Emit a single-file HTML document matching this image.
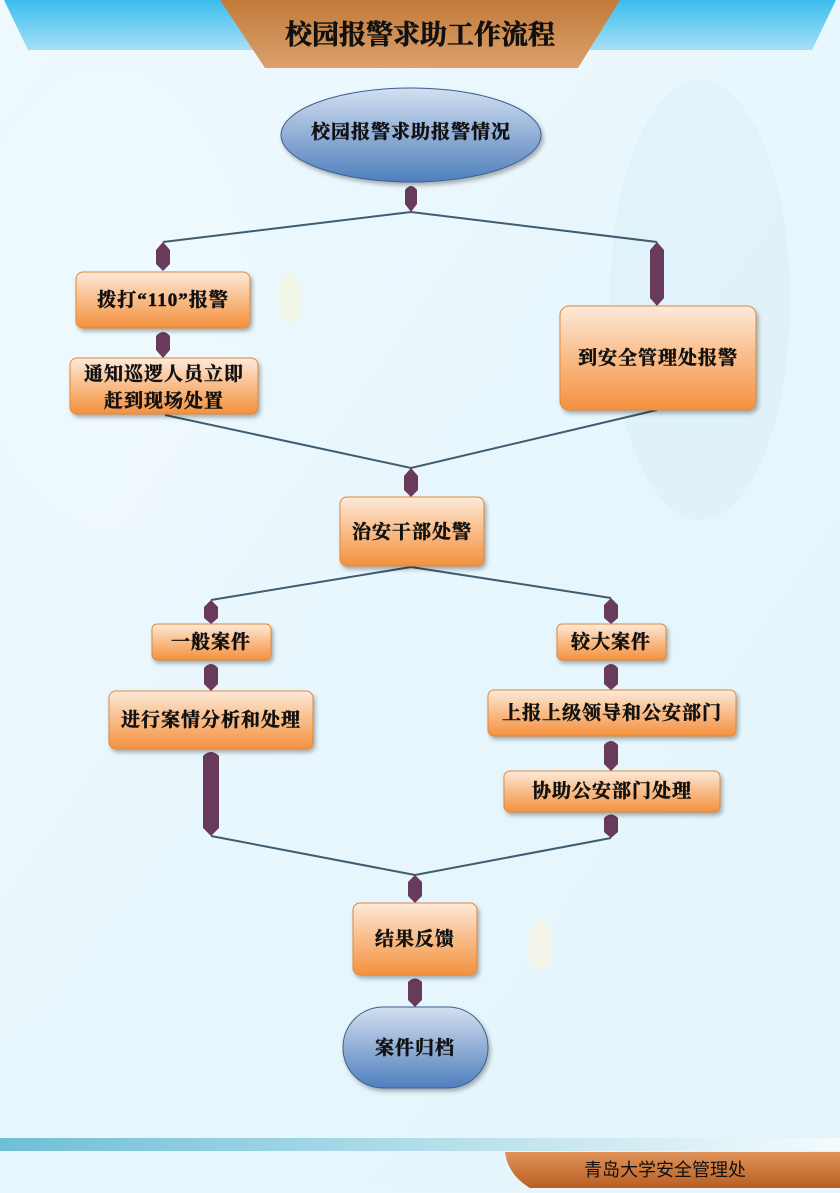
<!DOCTYPE html>
<html><head><meta charset="utf-8"><style>
html,body{margin:0;padding:0}
body{width:840px;height:1188px;overflow:hidden;background:#e6f6fd}
svg text{font-family:"Liberation Serif","Noto Serif CJK SC","Noto Sans CJK SC",serif;font-weight:bold;fill:#111}
.t{stroke:#111;stroke-width:0.5px;letter-spacing:1px}
</style></head><body>
<svg width="840" height="1188" viewBox="0 0 840 1188" xmlns="http://www.w3.org/2000/svg">
<defs>
<linearGradient id="bg" x1="0" y1="0" x2="1" y2="1"><stop offset="0" stop-color="#eef9fe"/><stop offset="1" stop-color="#e2f4fc"/></linearGradient>
<linearGradient id="band" x1="0" y1="0" x2="0" y2="1"><stop offset="0" stop-color="#3cbdee"/><stop offset="1" stop-color="#a6dff6"/></linearGradient>
<linearGradient id="trap" x1="0" y1="0" x2="0" y2="1"><stop offset="0" stop-color="#c27b3a"/><stop offset="1" stop-color="#dca06c"/></linearGradient>
<linearGradient id="box" x1="0" y1="0" x2="0" y2="1"><stop offset="0" stop-color="#fdeadb"/><stop offset="0.45" stop-color="#f9c08f"/><stop offset="1" stop-color="#f4913e"/></linearGradient>
<linearGradient id="ell" x1="0" y1="0" x2="0" y2="1"><stop offset="0" stop-color="#d3dff0"/><stop offset="1" stop-color="#4f7fbd"/></linearGradient>
<linearGradient id="bar" x1="0" y1="0" x2="1" y2="0"><stop offset="0" stop-color="#6fbfd6"/><stop offset="1" stop-color="#f4fbfd"/></linearGradient>
<linearGradient id="foot" x1="0" y1="0" x2="0" y2="1"><stop offset="0" stop-color="#e0935a"/><stop offset="1" stop-color="#b95e22"/></linearGradient>
<filter id="sh" x="-10%" y="-10%" width="130%" height="140%"><feDropShadow dx="2" dy="3" stdDeviation="2" flood-color="#000" flood-opacity="0.3"/></filter>
</defs>
<rect width="840" height="1188" fill="url(#bg)"/>
<ellipse cx="110" cy="300" rx="140" ry="230" fill="#fff" opacity="0.15"/>
<ellipse cx="700" cy="300" rx="90" ry="220" fill="#d8eef8" opacity="0.5"/>
<ellipse cx="290" cy="298" rx="12" ry="25" fill="#f3f5e4" opacity="0.9"/>
<ellipse cx="540" cy="945" rx="12" ry="25" fill="#f3f5e4" opacity="0.9"/>
<polygon points="4,0 836,0 812,50 28,50" fill="url(#band)"/>
<polygon points="220,0 620,0 578,68 265,68" fill="url(#trap)"/>
<text x="420" y="44" text-anchor="middle" font-size="27" style="stroke:#111;stroke-width:0.6px">校园报警求助工作流程</text>
<g stroke="#3f5c70" stroke-width="2" fill="none">
<path d="M163,242 L411,212 L657,242"/>
<path d="M165,415 L411,468 L657,410"/>
<path d="M211,600 L411,567 L611,598"/>
<path d="M211,836 L415,875 L611,838"/>
</g>
<g fill="#683a5c">
<path d="M405,190 Q411,182 417,190 L417,204 L411,212 L405,204Z"/>
<path d="M156,250 L163,242 L170,250 L170,264 L163,271 L156,264Z"/>
<path d="M156,336 Q163,328 170,336 L170,350 L163,358 L156,350Z"/>
<path d="M650,250 L657,242 L664,250 L664,298 L657,306 L650,298Z"/>
<path d="M404,476 L411,468 L418,476 L418,490 L411,497 L404,490Z"/>
<path d="M204,607 L211,600 L218,607 L218,618 L211,624 L204,618Z"/>
<path d="M604,605 L611,598 L618,605 L618,618 L611,624 L604,618Z"/>
<path d="M204,668 Q211,660 218,668 L218,684 L211,691 L204,684Z"/>
<path d="M604,668 Q611,660 618,668 L618,684 L611,690 L604,684Z"/>
<path d="M604,745 Q611,737 618,745 L618,764 L611,771 L604,764Z"/>
<path d="M203,756 Q211,748 219,756 L219,828 L211,836 L203,828Z"/>
<path d="M604,818 Q611,811 618,818 L618,832 L611,838 L604,832Z"/>
<path d="M408,882 L415,875 L422,882 L422,896 L415,903 L408,896Z"/>
<path d="M408,982 Q415,975 422,982 L422,1000 L415,1007 L408,1000Z"/>
</g>
<g filter="url(#sh)">
<ellipse cx="411" cy="135" rx="130" ry="47" fill="url(#ell)" stroke="#3d5f8f" stroke-width="1"/>
<g fill="url(#box)" stroke="#e0893a" stroke-width="1">
<rect x="76" y="272" width="174" height="56" rx="7"/>
<rect x="70" y="358" width="188" height="56" rx="7"/>
<rect x="560" y="306" width="196" height="104" rx="9"/>
<rect x="340" y="497" width="144" height="69" rx="7"/>
<rect x="152" y="624" width="119" height="36" rx="5"/>
<rect x="557" y="624" width="109" height="36" rx="5"/>
<rect x="109" y="691" width="204" height="58" rx="7"/>
<rect x="488" y="690" width="248" height="46" rx="6"/>
<rect x="504" y="771" width="216" height="41" rx="6"/>
<rect x="353" y="903" width="124" height="72" rx="7"/>
</g>
<rect x="343" y="1007" width="145" height="81" rx="40" fill="url(#ell)" stroke="#3d5f8f" stroke-width="1"/>
</g>
<g font-size="19" text-anchor="middle" class="t">
<text class="t" x="411" y="138">校园报警求助报警情况</text>
<text class="t" x="163" y="306">拨打“110”报警</text>
<text class="t" x="164" y="380">通知巡逻人员立即</text>
<text class="t" x="164" y="407">赶到现场处置</text>
<text class="t" x="658" y="364">到安全管理处报警</text>
<text class="t" x="412" y="538">治安干部处警</text>
<text class="t" x="211" y="648">一般案件</text>
<text class="t" x="611" y="648">较大案件</text>
<text class="t" x="211" y="726">进行案情分析和处理</text>
<text class="t" x="612" y="719">上报上级领导和公安部门</text>
<text class="t" x="612" y="797">协助公安部门处理</text>
<text class="t" x="415" y="945">结果反馈</text>
<text class="t" x="415" y="1054">案件归档</text>
</g>
<rect x="0" y="1138" width="840" height="13" fill="url(#bar)"/>
<path d="M505,1152 L840,1152 L840,1188 L530,1188 Q508,1175 505,1152Z" fill="url(#foot)"/>
<text x="665" y="1176" text-anchor="middle" font-size="18" style="font-weight:normal;font-family:'Liberation Sans','Noto Sans CJK SC',sans-serif">青岛大学安全管理处</text>
</svg>
</body></html>
